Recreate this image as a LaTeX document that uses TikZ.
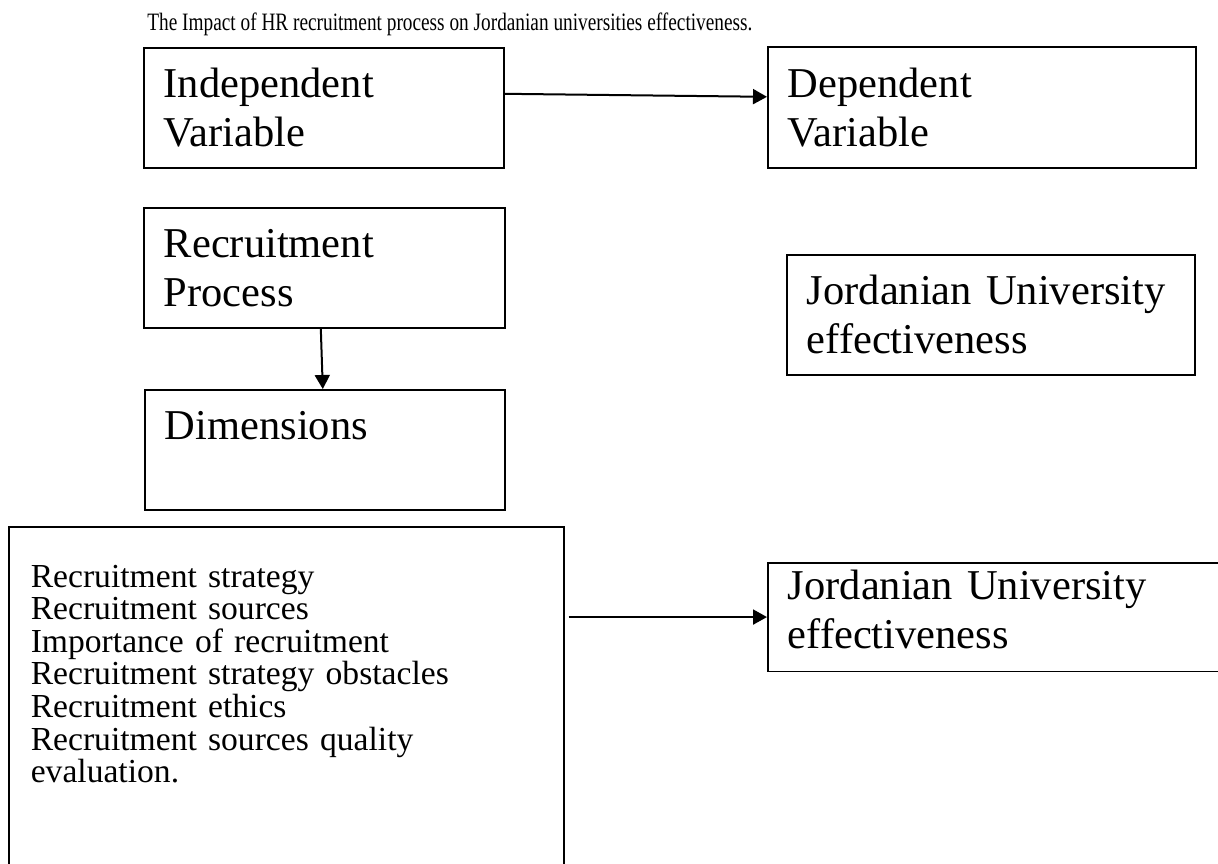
\documentclass[tikz,border=0pt]{standalone}
\usepackage{fontspec}
\setmainfont{Liberation Serif}
\usetikzlibrary{arrows.meta}

\begin{document}
\begin{tikzpicture}[x=0.5pt, y=-0.5pt,
  box/.style={rectangle, draw=black, line width=0.8pt, anchor=north west, align=left, inner xsep=10pt, inner ysep=0pt, font=\fontsize{21.25pt}{24.4pt}\selectfont},
  link/.style={-{Triangle[length=7pt,width=7.5pt]}, line width=1pt}]
\path[use as bounding box, clip] (0,0) rectangle (1218,863);

\node (title) [anchor=base west, inner sep=0pt, font=\fontsize{12.5pt}{14pt}\selectfont] at (147,30) {\resizebox{302.5pt}{\height}{The Impact of HR recruitment process on Jordanian universities effectiveness.}};

% variables row
\node (indep) [box, text width=160pt, minimum height=60pt] at (143,47) {Independent\\Variable};
\node (dep) [box, text width=194pt, minimum height=60.5pt] at (767,46) {Dependent\\Variable};

% left column
\node (recruit) [box, text width=160.5pt, minimum height=60pt] at (143,207) {Recruitment\\Process};
\node (dims) [box, text width=160pt, minimum height=60pt] at (144,389) {Dimensions\\\mbox{}};
\node (dimlist) [box, text width=255.5pt, inner xsep=11pt, inner ysep=19pt, font=\fontsize{16.8pt}{16.3pt}\selectfont] at (8,526) {Recruitment strategy\\Recruitment sources\\Importance of recruitment\\Recruitment strategy obstacles\\Recruitment ethics\\Recruitment sources quality\\evaluation.\\\mbox{}\\\mbox{}};

% right column
\node (jordone) [box, text width=184pt, minimum height=60pt] at (786,254) {Jordanian University\\effectiveness};
\node (jordtwo) [box, text width=226.5pt, inner ysep=3.5pt, text depth=32.5pt] at (767,562) {Jordanian University\\effectiveness};

\draw[link] ([yshift=7pt]indep.east) -- ([yshift=5.25pt]dep.west);
\draw[link] ([xshift=-1.75pt]recruit.south) -- ([xshift=-1pt]dims.north);
\draw[link] ([xshift=2pt]dimlist.east |- jordtwo.west) -- (jordtwo.west);

\end{tikzpicture}
\end{document}
